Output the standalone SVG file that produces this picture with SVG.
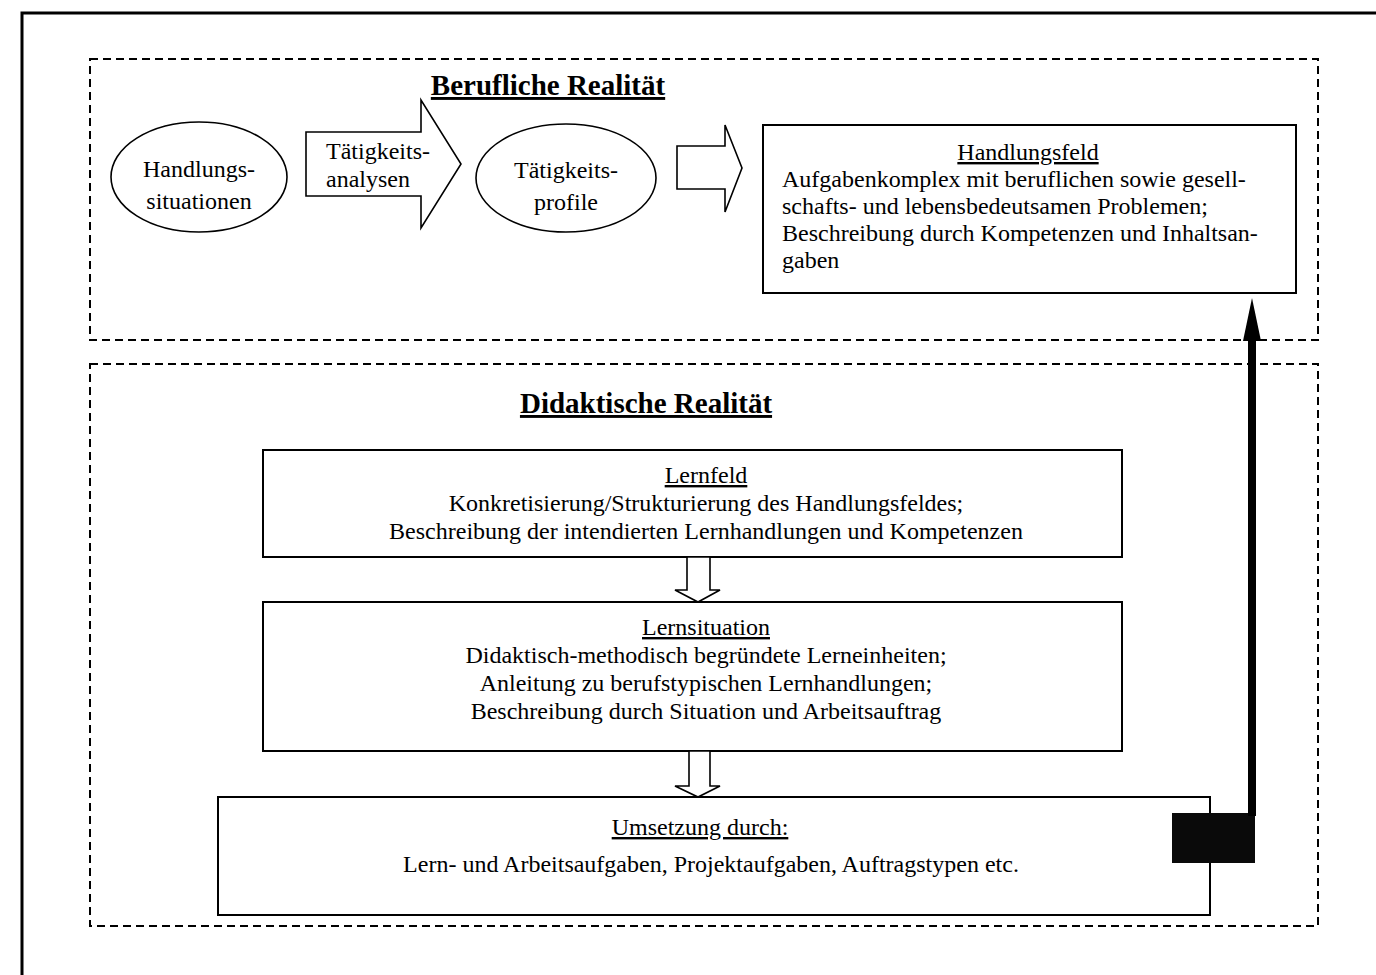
<svg xmlns="http://www.w3.org/2000/svg" width="1376" height="975" viewBox="0 0 1376 975">
  <style>
    .t { font-family: "Liberation Serif", "Times New Roman", serif; font-size: 24px; fill: #000; }
    .c { text-anchor: middle; }
    .u { text-decoration: underline; }
    .h { font-family: "Liberation Serif", "Times New Roman", serif; font-size: 29px; font-weight: bold; fill: #000; text-anchor: middle; text-decoration: underline; }
    .frame { fill: none; stroke: #000; stroke-width: 3; }
    .zone { fill: none; stroke: #000; stroke-width: 2; stroke-dasharray: 8 5; }
    .box { fill: #fff; stroke: #000; stroke-width: 2; }
    .oval { fill: #fff; stroke: #000; stroke-width: 1.6; }
    .blk { fill: #fff; stroke: #000; stroke-width: 1.6; stroke-linejoin: miter; }
  </style>

  <rect width="1376" height="975" fill="#fff"/>

  <!-- outer page frame -->
  <path class="frame" d="M22,975 V13 H1376"/>

  <!-- area frames -->
  <g id="zone-beruflich">
    <rect class="zone" x="90" y="59" width="1228" height="281"/>
    <text class="h" x="548" y="95">Berufliche Realität</text>
  </g>
  <g id="zone-didaktisch">
    <rect class="zone" x="90" y="364" width="1228" height="562"/>
    <text class="h" x="646" y="413">Didaktische Realität</text>
  </g>

  <!-- upper row -->
  <g id="handlungssituationen">
    <ellipse class="oval" cx="199" cy="177" rx="88" ry="55"/>
    <text class="t c" x="199" y="177">Handlungs-</text>
    <text class="t c" x="199" y="209">situationen</text>
  </g>

  <g id="taetigkeitsprofile">
    <ellipse class="oval" cx="566" cy="178" rx="90" ry="54"/>
    <text class="t c" x="566" y="178">Tätigkeits-</text>
    <text class="t c" x="566" y="210">profile</text>
  </g>

  <g id="handlungsfeld">
    <rect class="box" x="763" y="125" width="533" height="168"/>
    <text class="t c u" x="1028" y="160">Handlungsfeld</text>
    <text class="t" x="782" y="187">Aufgabenkomplex mit beruflichen sowie gesell-</text>
    <text class="t" x="782" y="214">schafts- und lebensbedeutsamen Problemen;</text>
    <text class="t" x="782" y="241">Beschreibung durch Kompetenzen und Inhaltsan-</text>
    <text class="t" x="782" y="268">gaben</text>
  </g>

  <!-- lower column -->
  <g id="lernfeld">
    <rect class="box" x="263" y="450" width="859" height="107"/>
    <text class="t c u" x="706" y="483">Lernfeld</text>
    <text class="t c" x="706" y="511">Konkretisierung/Strukturierung des Handlungsfeldes;</text>
    <text class="t c" x="706" y="539">Beschreibung der intendierten Lernhandlungen und Kompetenzen</text>
  </g>

  <g id="lernsituation">
    <rect class="box" x="263" y="602" width="859" height="149"/>
    <text class="t c u" x="706" y="635">Lernsituation</text>
    <text class="t c" x="706" y="663">Didaktisch-methodisch begründete Lerneinheiten;</text>
    <text class="t c" x="706" y="691">Anleitung zu berufstypischen Lernhandlungen;</text>
    <text class="t c" x="706" y="719">Beschreibung durch Situation und Arbeitsauftrag</text>
  </g>

  <g id="umsetzung">
    <rect class="box" x="218" y="797" width="992" height="118"/>
    <text class="t c u" x="700" y="835">Umsetzung durch:</text>
    <text class="t c" x="711" y="872">Lern- und Arbeitsaufgaben, Projektaufgaben, Auftragstypen etc.</text>
  </g>

  <!-- connectors -->
  <g id="connectors">
    <!-- block arrows in the upper row -->
    <polygon class="blk" points="306,132 421,132 421,100 461,164 421,228 421,196 306,196"/>
    <text class="t" x="326" y="159">Tätigkeits-</text>
    <text class="t" x="326" y="187">analysen</text>
    <polygon class="blk" points="677,146 725,146 725,125 742,168 725,212 725,189 677,189"/>

    <!-- hollow down arrows -->
    <polygon class="blk" points="687,557 710,557 710,590 720,590 698,602 675,590 687,590"/>
    <polygon class="blk" points="689,751 710,751 710,786 720,786 698,797 675,786 689,786"/>

    <!-- feedback arrow from implementation back to the field of action -->
    <rect x="1172" y="813" width="83" height="50" fill="#0a0a0a"/>
    <rect x="1248" y="336" width="8" height="480" fill="#000"/>
    <polygon points="1252,298 1261,341 1243,341" fill="#000"/>
  </g>
</svg>
